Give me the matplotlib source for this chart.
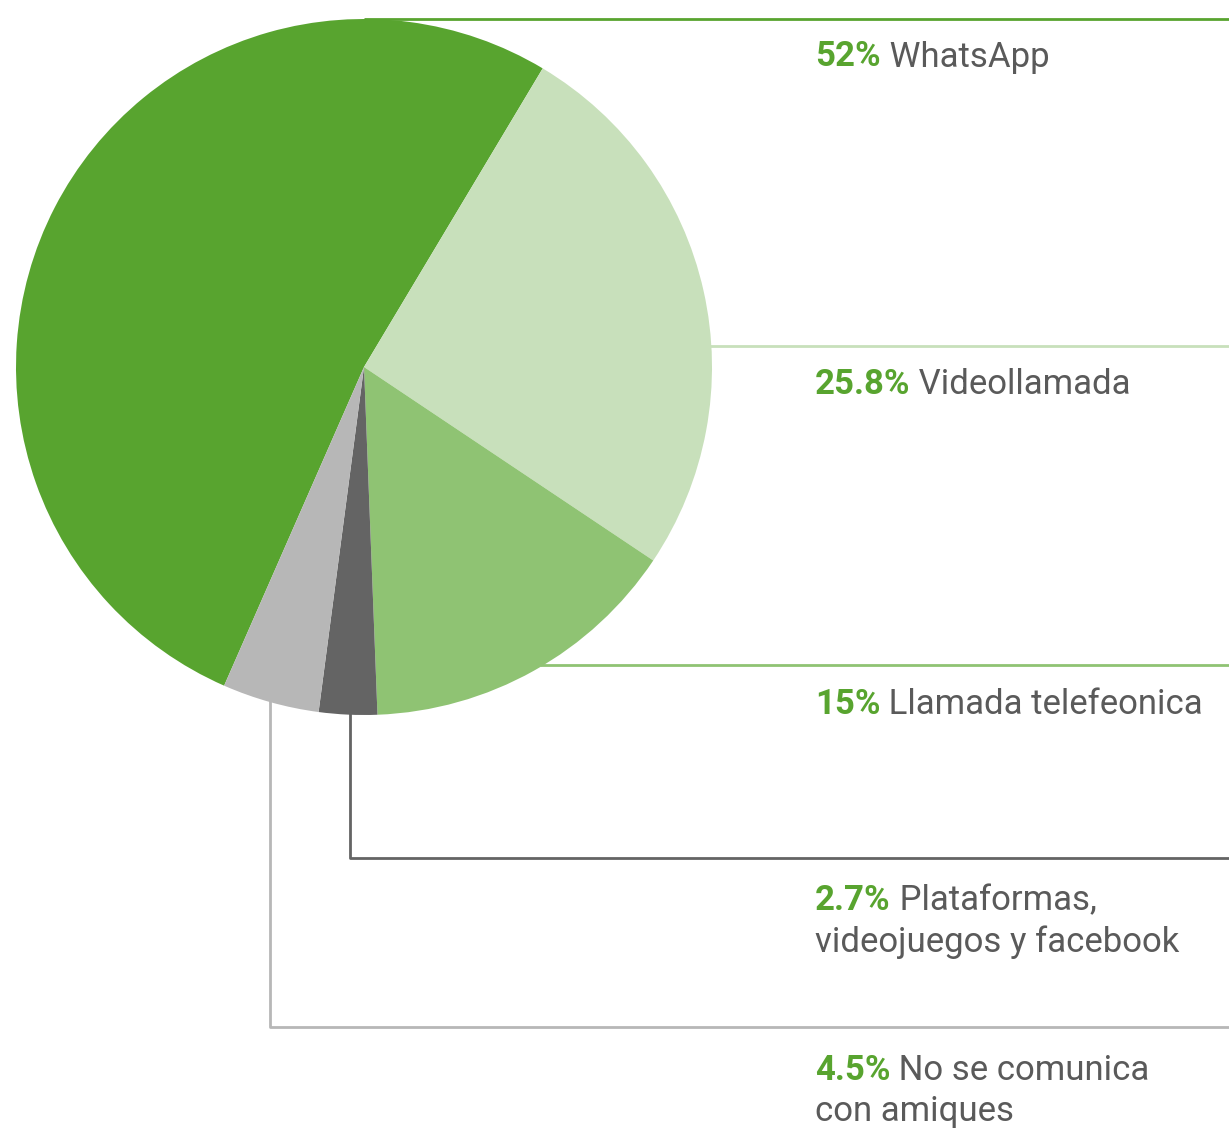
import matplotlib
matplotlib.use("Agg")
import matplotlib.pyplot as plt

# data
labels = ["WhatsApp", "Videollamada", "Llamada telefeonica",
          "Plataformas,\nvideojuegos y facebook", "No se comunica\ncon amiques"]
pct_text = ["52%", "25.8%", "15%", "2.7%", "4.5%"]
values = [52, 25.8, 15, 2.7, 4.5]
colors = ["#58a42f", "#c8e0bb", "#8fc373", "#646464", "#b7b7b7"]

W, H = 1229, 1129
fig = plt.figure(figsize=(W / 100, H / 100), dpi=100)
ax = fig.add_axes([0, 0, 1, 1])

CX, CY, R = 364, H - 367, 348
ax.pie(values, colors=colors, startangle=246.3, counterclock=False,
       center=(CX, CY), radius=R, wedgeprops=dict(linewidth=0), frame=False)
for w in ax.patches:
    w.set_zorder(3)
ax.set_xlim(0, W); ax.set_ylim(0, H)
ax.set_aspect("equal")
ax.axis("off")

def y(px):
    return H - px

# leader lines (pixel layout)
LW = 2.0
ax.plot([CX, W], [y(19), y(19)], color=colors[0], lw=LW, zorder=1, solid_capstyle="butt")
ax.plot([700, W], [y(346), y(346)], color=colors[1], lw=LW, zorder=1, solid_capstyle="butt")
ax.plot([540, W], [y(665), y(665)], color=colors[2], lw=LW, zorder=1, solid_capstyle="butt")
ax.plot([350, 350, W], [y(700), y(858), y(858)], color=colors[3], lw=LW, zorder=1)
ax.plot([270, 270, W], [y(680), y(1027), y(1027)], color=colors[4], lw=LW, zorder=1)

FONT = ["Roboto", "DejaVu Sans"]
FS = 25
TX = 815
text_y = [57, 385, 704, 901, 1070]
LINE = 41

fig.canvas.draw()
for pct, lab, ty in zip(pct_text, labels, text_y):
    t = ax.text(TX, y(ty), pct, fontsize=FS, fontweight="bold", color="#58a42f",
                family=FONT, fontstretch="condensed", va="center", ha="left")
    lines = lab.split("\n")
    ax.annotate(" " + lines[0], xy=(1, 0.5), xycoords=t, fontsize=FS,
                color="#5a5a5a", family=FONT, fontstretch="condensed",
                va="center", ha="left")
    for i, extra in enumerate(lines[1:], start=1):
        ax.text(TX, y(ty + i * LINE), extra, fontsize=FS, color="#5a5a5a",
                family=FONT, fontstretch="condensed", va="center", ha="left")

fig.savefig("out.png", dpi=100, facecolor="white")
